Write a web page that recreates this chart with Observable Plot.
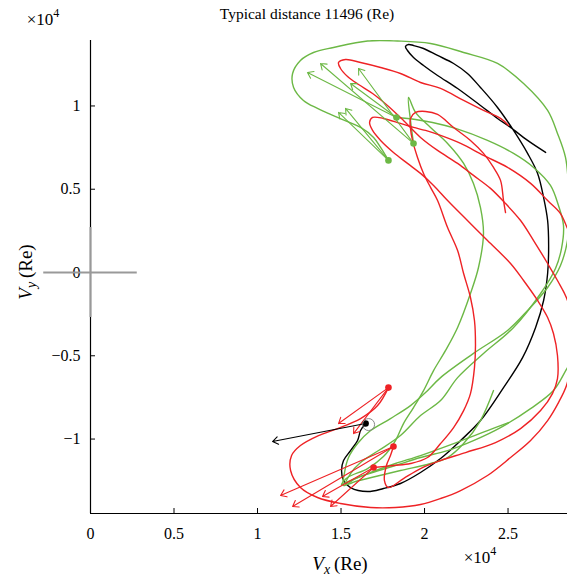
<!DOCTYPE html>
<html><head><meta charset="utf-8">
<script src="https://cdn.jsdelivr.net/npm/d3@7"></script>
<script src="https://cdn.jsdelivr.net/npm/@observablehq/plot@0.6"></script>
<style>body{margin:0;background:#fff} svg{display:block}</style>
</head><body><div id="chart"></div>
<script>
// values in units of 10^4 Re
const xTicks = [0, 0.5, 1, 1.5, 2, 2.5];
const yTicks = [-1, -0.5, 0, 0.5, 1];
const titleText = "Typical distance 11496 (Re)";

const blackTraj = [[2.725,0.721],[2.617,0.793],[2.515,0.871],[2.437,0.925],[2.335,1.003],[2.198,1.105],[2.078,1.183],[1.994,1.243],[1.934,1.291],[1.898,1.333],[1.886,1.357],[1.904,1.369],[1.934,1.363],[1.994,1.345],[2.078,1.303],[2.174,1.255],[2.257,1.195],[2.335,1.111],[2.437,0.991],[2.533,0.853],[2.617,0.715],[2.677,0.595],[2.713,0.450],[2.737,0.312],[2.743,0.162],[2.737,-0.006],[2.713,-0.168],[2.665,-0.330],[2.587,-0.511],[2.473,-0.691],[2.335,-0.889],[2.216,-1.009],[2.096,-1.117],[1.976,-1.201],[1.856,-1.267],[1.754,-1.297],[1.659,-1.315],[1.557,-1.291],[1.515,-1.249],[1.503,-1.189],[1.515,-1.129],[1.557,-1.069],[1.599,-1.009],[1.617,-0.949],[1.647,-0.907]];

const green1 = [[2.503,-0.901],[2.377,-0.949],[2.174,-1.027],[1.976,-1.099],[1.826,-1.147],[1.677,-1.201],[1.569,-1.243],[1.503,-1.273],[1.539,-1.231],[1.659,-1.177],[1.754,-1.105],[1.826,-1.009],[1.874,-0.907],[1.934,-0.811],[1.994,-0.709],[2.054,-0.589],[2.126,-0.468],[2.198,-0.330],[2.275,-0.126],[2.323,0.030],[2.353,0.234],[2.335,0.390],[2.293,0.535],[2.234,0.655],[2.138,0.775],[2.036,0.871],[1.946,0.961],[1.904,1.051],[1.916,0.913],[1.934,0.775]];

const green2 = [[2.413,-0.709],[2.335,-0.889],[2.234,-1.027],[2.138,-1.111],[2.036,-1.147],[1.856,-1.189],[1.707,-1.225],[1.587,-1.255],[1.527,-1.273],[1.557,-1.207],[1.617,-1.141],[1.725,-1.069],[1.856,-0.979],[1.976,-0.859],[2.096,-0.769],[2.198,-0.631],[2.353,-0.486],[2.533,-0.330],[2.695,-0.126],[2.784,0.024],[2.820,0.144],[2.832,0.282],[2.802,0.402],[2.754,0.523],[2.653,0.631],[2.533,0.715],[2.377,0.793],[2.186,0.865],[2.048,0.901],[1.946,0.919],[1.832,0.931]];

const green3 = [[2.886,-0.529],[2.856,-0.571],[2.772,-0.709],[2.635,-0.817],[2.455,-0.931],[2.293,-1.009],[2.138,-1.069],[1.976,-1.111],[1.826,-1.159],[1.689,-1.201],[1.587,-1.237],[1.515,-1.279],[1.521,-1.201],[1.545,-1.111],[1.599,-1.027],[1.677,-0.949],[1.796,-0.877],[1.916,-0.799],[2.006,-0.721],[2.096,-0.631],[2.293,-0.486],[2.497,-0.348],[2.617,-0.228],[2.737,-0.090],[2.814,0.042],[2.856,0.192],[2.868,0.372],[2.862,0.523],[2.844,0.691],[2.796,0.835],[2.737,0.973],[2.593,1.135],[2.437,1.255],[2.234,1.321],[2.036,1.375],[1.838,1.390],[1.659,1.390],[1.455,1.351],[1.335,1.321],[1.257,1.273],[1.210,1.195],[1.216,1.111],[1.275,1.033],[1.359,0.985],[1.479,0.931],[1.617,0.871],[1.695,0.811],[1.737,0.751],[1.784,0.673]];

const red1 = [[2.503,0.883],[2.455,0.925],[2.353,0.973],[2.234,1.033],[2.096,1.105],[1.976,1.141],[1.856,1.195],[1.737,1.231],[1.617,1.261],[1.527,1.279],[1.485,1.261],[1.497,1.225],[1.539,1.177],[1.605,1.129],[1.689,1.075],[1.778,1.003],[1.874,0.913],[1.976,0.811],[2.078,0.733],[2.198,0.655],[2.293,0.583],[2.395,0.505],[2.485,0.414],[2.575,0.312],[2.653,0.192],[2.737,0.054],[2.796,-0.048],[2.856,-0.168],[2.886,-0.348],[2.874,-0.559],[2.850,-0.679],[2.802,-0.781],[2.737,-0.889],[2.635,-1.009],[2.515,-1.111],[2.377,-1.219],[2.216,-1.309],[2.096,-1.357],[1.976,-1.393],[1.826,-1.411],[1.677,-1.411],[1.497,-1.387],[1.359,-1.351],[1.257,-1.291],[1.198,-1.189],[1.204,-1.099],[1.257,-1.039],[1.365,-0.979],[1.479,-0.937],[1.617,-0.877],[1.719,-0.799],[1.784,-0.691]];

const red2 = [[2.485,0.360],[2.473,0.432],[2.455,0.553],[2.413,0.631],[2.353,0.715],[2.275,0.793],[2.174,0.871],[2.078,0.949],[2.006,0.967],[1.946,0.961],[1.916,0.925],[1.916,0.865],[1.928,0.793],[1.958,0.691],[1.994,0.595],[2.036,0.511],[2.078,0.432],[2.138,0.270],[2.198,0.132],[2.234,-0.006],[2.275,-0.150],[2.299,-0.288],[2.305,-0.438],[2.299,-0.571],[2.275,-0.727],[2.234,-0.829],[2.174,-0.931],[2.096,-1.027],[2.018,-1.111],[1.916,-1.147],[1.814,-1.159],[1.695,-1.171]];

const red3 = [[2.904,0.162],[2.856,0.264],[2.814,0.354],[2.737,0.432],[2.635,0.535],[2.497,0.631],[2.353,0.703],[2.216,0.775],[2.096,0.823],[2.006,0.853],[1.934,0.871],[1.856,0.895],[1.754,0.925],[1.689,0.931],[1.671,0.901],[1.689,0.853],[1.737,0.793],[1.814,0.721],[1.898,0.655],[1.976,0.595],[2.054,0.523],[2.138,0.432],[2.257,0.312],[2.377,0.192],[2.515,0.054],[2.593,-0.048],[2.677,-0.168],[2.737,-0.270],[2.772,-0.366],[2.796,-0.498],[2.796,-0.637],[2.766,-0.727],[2.695,-0.829],[2.575,-0.937],[2.425,-1.021],[2.246,-1.081],[2.096,-1.129],[1.976,-1.177],[1.874,-1.237],[1.784,-1.291],[1.760,-1.249],[1.772,-1.159],[1.796,-1.099],[1.814,-1.045]];

const greenDots = [[1.934,0.775],[1.832,0.931],[1.784,0.673]];
const redDots = [[1.784,-0.691],[1.814,-1.045],[1.695,-1.171]];
const blackDot = [[1.647,-0.907]];
const blackRing = [[1.665,-0.913]];

// velocity vectors [x1, y1, x2, y2]
const greenArrows = [[1.934,0.775,1.377,1.255],[1.832,0.931,1.557,1.135],[1.784,0.673,1.485,0.961]];
const greenArrowsDotted = [[1.934,0.775,1.605,1.225],[1.832,0.931,1.299,1.201],[1.784,0.673,1.527,0.985]];
const redArrows = [[1.784,-0.691,1.485,-0.907],[1.814,-1.045,1.210,-1.405],[1.695,-1.171,1.389,-1.345]];
const redArrowsDotted = [[1.784,-0.691,1.575,-0.967],[1.814,-1.045,1.138,-1.339],[1.695,-1.171,1.437,-1.405]];
const blackArrow = [[1.647,-0.907,1.090,-1.015]];

const GREEN = "#6cb845", RED = "#ee2225", BLACK = "#000";

const traj = [
  ["k", blackTraj, BLACK], ["g1", green1, GREEN], ["g2", green2, GREEN], ["g3", green3, GREEN],
  ["r1", red1, RED], ["r2", red2, RED], ["r3", red3, RED]
];
const lineRows = traj.flatMap(([id, pts, c]) => pts.map(([x, y]) => ({id, x, y, c})));
const arrowRows = (arr, c, dash) => arr.map(([x1,y1,x2,y2]) => ({x1,y1,x2,y2,c,dash}));
const arrows = [
  ...arrowRows(greenArrows, GREEN, null), ...arrowRows(greenArrowsDotted, GREEN, "1.5,3.5"),
  ...arrowRows(redArrows, RED, null), ...arrowRows(redArrowsDotted, RED, "1.5,3.5"),
  ...arrowRows(blackArrow, BLACK, null)
];
const dotRows = [
  ...greenDots.map(([x,y]) => ({x,y,c:GREEN})),
  ...redDots.map(([x,y]) => ({x,y,c:RED})),
  ...blackDot.map(([x,y]) => ({x,y,c:BLACK}))
];

const xDom = [0, 2.856], yDom = [-1.447, 1.393];
const fmt = d => d < 0 ? "\u2212" + Math.abs(d) : String(d);

const W = 567, H = 579, mL = 90, mR = 0, mT = 40, mB = 66;
const chart = Plot.plot({
  width: W, height: H,
  marginLeft: mL, marginRight: mR, marginTop: mT, marginBottom: mB,
  x: {domain: xDom},
  y: {domain: yDom},
  style: {fontFamily: "'Liberation Serif', 'DejaVu Serif', serif", fontSize: "16px", background: "#fff", color: "#000"},
  marks: [
    Plot.line(lineRows, {x: "x", y: "y", z: "id", stroke: "c", strokeWidth: 1.4, curve: "catmull-rom", clip: true}),
    Plot.arrow(arrows, {x1: "x1", y1: "y1", x2: "x2", y2: "y2", stroke: "c", strokeDasharray: "dash", strokeWidth: 1.1, headLength: 9, headAngle: 70, clip: true}),
    Plot.dot(dotRows, {x: d => d.x, y: d => d.y, fill: "c", r: 3.3}),
    Plot.dot(blackRing, {x: d => d[0], y: d => d[1], r: 6, stroke: "#888", fill: "none", strokeWidth: 1}),
    Plot.ruleX([xDom[0]], {stroke: "#000", strokeWidth: 1.2}),
    Plot.ruleY([yDom[0]], {stroke: "#000", strokeWidth: 1.2}),
    Plot.tickX(xTicks, {x: d => d, insetTop: H - mT - mB - 5, stroke: "#000"}),
    Plot.tickY(yTicks, {y: d => d, insetRight: W - mL - mR - 5, stroke: "#000"}),
    Plot.axisX({ticks: xTicks, tickSize: 0, tickPadding: 14, tickFormat: fmt, label: null, fontSize: 16}),
    Plot.axisY({ticks: yTicks, tickSize: 0, tickPadding: 10, tickFormat: fmt, label: null, fontSize: 16}),
    Plot.ruleY([0], {x1: -0.28, x2: 0.28, stroke: "#999", strokeWidth: 2}),
    Plot.ruleX([0], {y1: -0.27, y2: 0.27, stroke: "#999", strokeWidth: 2})
  ]
});

const svg = d3.select(chart);
const ff = "'Liberation Serif', 'DejaVu Serif', serif";
svg.append("text").attr("x", 307).attr("y", 19).attr("text-anchor", "middle")
  .attr("font-family", ff).attr("font-size", 15.5).text(titleText);

function times10(x, y) {
  const t = svg.append("text").attr("x", x).attr("y", y).attr("font-family", ff).attr("font-size", 17);
  t.append("tspan").text("\u00d710");
  t.append("tspan").attr("dy", -8).attr("font-size", 12).text("4");
}
times10(43, 25);
times10(480, 563);

const xl = svg.append("text").attr("x", 340).attr("y", 570).attr("text-anchor", "middle")
  .attr("font-family", ff).attr("font-size", 19);
xl.append("tspan").attr("font-style", "italic").text("V");
xl.append("tspan").attr("font-style", "italic").attr("font-size", 14).attr("dy", 4).text("x");
xl.append("tspan").attr("dy", -4).text("\u2009(Re)");

const yl = svg.append("text").attr("transform", "translate(32,272) rotate(-90)").attr("text-anchor", "middle")
  .attr("font-family", ff).attr("font-size", 19);
yl.append("tspan").attr("font-style", "italic").text("V");
yl.append("tspan").attr("font-style", "italic").attr("font-size", 14).attr("dy", 4).text("y");
yl.append("tspan").attr("dy", -4).text("\u2009(Re)");

document.getElementById("chart").appendChild(chart);
</script>
</body></html>
